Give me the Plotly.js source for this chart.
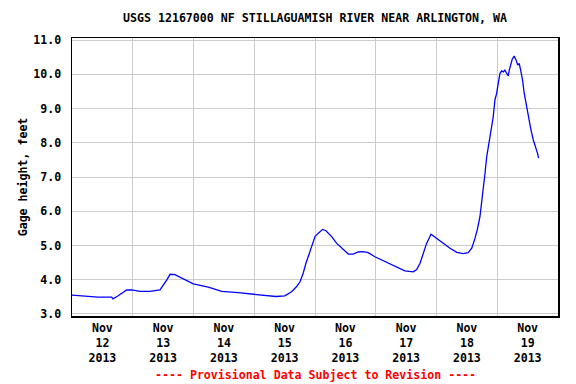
<!DOCTYPE html>
<html>
<head>
<meta charset="utf-8">
<script src="https://cdn.plot.ly/plotly-3.0.1.min.js"></script>
<style>html,body{margin:0;padding:0;background:#fff;}#chart{width:576px;height:384px;}</style>
</head>
<body>
<div id="chart"></div>
<script>
// Gage height readings
const times = [
  "2013-11-12 00:00","2013-11-12 03:50","2013-11-12 10:15","2013-11-12 15:40","2013-11-12 16:10",
  "2013-11-12 18:15","2013-11-12 21:35","2013-11-12 23:35","2013-11-13 02:50","2013-11-13 06:50",
  "2013-11-13 10:45","2013-11-13 13:25","2013-11-13 14:45","2013-11-13 16:40","2013-11-13 18:40",
  "2013-11-13 21:20","2013-11-13 23:55","2013-11-14 05:50","2013-11-14 11:10","2013-11-14 17:40",
  "2013-11-15 00:15","2013-11-15 07:30","2013-11-15 08:35","2013-11-15 12:05","2013-11-15 14:45",
  "2013-11-15 16:45","2013-11-15 18:05","2013-11-15 19:20","2013-11-15 20:25","2013-11-15 22:00",
  "2013-11-15 22:40","2013-11-16 00:00","2013-11-16 01:20","2013-11-16 03:00","2013-11-16 04:20",
  "2013-11-16 06:35","2013-11-16 08:35","2013-11-16 11:10","2013-11-16 13:10","2013-11-16 15:05",
  "2013-11-16 17:05","2013-11-16 19:05","2013-11-16 21:00","2013-11-16 23:40","2013-11-17 03:40",
  "2013-11-17 08:15","2013-11-17 11:30","2013-11-17 14:50","2013-11-17 16:10","2013-11-17 17:30",
  "2013-11-17 18:45","2013-11-17 20:05","2013-11-17 21:50","2013-11-17 22:45","2013-11-18 00:40",
  "2013-11-18 02:40","2013-11-18 05:20","2013-11-18 08:00","2013-11-18 10:35","2013-11-18 12:30",
  "2013-11-18 13:55","2013-11-18 15:10","2013-11-18 16:05","2013-11-18 17:10","2013-11-18 17:50",
  "2013-11-18 18:30","2013-11-18 19:10","2013-11-18 19:50","2013-11-18 20:25","2013-11-18 21:05",
  "2013-11-18 21:45","2013-11-18 22:25","2013-11-18 23:05","2013-11-18 23:45","2013-11-19 00:25",
  "2013-11-19 01:05","2013-11-19 01:45","2013-11-19 02:25","2013-11-19 03:00","2013-11-19 03:40",
  "2013-11-19 04:20","2013-11-19 04:45","2013-11-19 05:20","2013-11-19 05:55","2013-11-19 06:40",
  "2013-11-19 07:25","2013-11-19 08:05","2013-11-19 08:40","2013-11-19 09:15","2013-11-19 10:00",
  "2013-11-19 10:40","2013-11-19 11:35","2013-11-19 12:30","2013-11-19 13:20","2013-11-19 14:15",
  "2013-11-19 15:10","2013-11-19 15:55","2013-11-19 16:20"
];
const gageHeight = [
  3.55,3.53,3.49,3.49,3.44,
  3.53,3.70,3.70,3.66,3.66,
  3.70,3.99,4.16,4.15,4.07,
  3.97,3.88,3.78,3.66,3.62,
  3.57,3.53,3.51,3.53,3.65,
  3.80,3.94,4.19,4.48,4.82,
  4.96,5.26,5.36,5.47,5.43,
  5.26,5.06,4.89,4.75,4.75,
  4.81,4.82,4.79,4.67,4.53,
  4.38,4.26,4.23,4.30,4.48,
  4.77,5.06,5.33,5.28,5.16,
  5.04,4.92,4.80,4.76,4.79,
  4.92,5.20,5.45,5.84,6.23,
  6.62,7.11,7.59,7.88,8.18,
  8.47,8.76,9.25,9.44,9.74,
  10.03,10.10,10.07,10.12,10.01,
  9.95,10.12,10.32,10.44,10.53,
  10.42,10.27,10.32,10.12,9.83,
  9.44,9.05,8.76,8.37,8.08,
  7.88,7.69,7.55
];
const dayGrid = ["2013-11-12","2013-11-13","2013-11-14","2013-11-15","2013-11-16","2013-11-17","2013-11-18","2013-11-19","2013-11-20"];
const dayLabelPos = ["2013-11-12 12:00","2013-11-13 12:00","2013-11-14 12:00","2013-11-15 12:00","2013-11-16 12:00","2013-11-17 12:00","2013-11-18 12:00","2013-11-19 12:00"];
const dayLabels = ["Nov<br>12<br>2013","Nov<br>13<br>2013","Nov<br>14<br>2013","Nov<br>15<br>2013","Nov<br>16<br>2013","Nov<br>17<br>2013","Nov<br>18<br>2013","Nov<br>19<br>2013"];
const yTicks = [3,4,5,6,7,8,9,10,11];

const FONT = {family: "DejaVu Sans Mono, monospace", size: 11.6, color: "#000", weight: "bold"};
const xRange = ["2013-11-12 00:00", "2013-11-20 00:00"];

const traces = [
  {x: times, y: gageHeight, type: "scatter", mode: "lines",
   line: {color: "#0000ff", width: 1.3}, hoverinfo: "skip", xaxis: "x", yaxis: "y"},
  {x: times, y: gageHeight, type: "scatter", mode: "lines",
   line: {color: "rgba(0,0,0,0)", width: 0}, hoverinfo: "skip", xaxis: "x2", yaxis: "y"}
];

const layout = {
  width: 576, height: 384,
  margin: {l: 72, r: 18, t: 38, b: 68},
  paper_bgcolor: "#fff", plot_bgcolor: "#fff",
  showlegend: false,
  font: FONT,
  title: {text: "USGS 12167000 NF STILLAGUAMISH RIVER NEAR ARLINGTON, WA",
          font: FONT, x: 0.5, xref: "paper", xanchor: "center",
          y: 1 - 18/384, yref: "container", yanchor: "middle"},
  xaxis: {
    type: "date", range: xRange, tickmode: "array", tickvals: dayGrid,
    showticklabels: false, ticks: "", showgrid: true, gridcolor: "#cccccc", gridwidth: 1,
    showline: true, linecolor: "#000", linewidth: 1.5, mirror: true, zeroline: false, fixedrange: true
  },
  xaxis2: {
    type: "date", range: xRange, overlaying: "x", side: "bottom", anchor: "y",
    tickmode: "array", tickvals: dayLabelPos, ticktext: dayLabels,
    showgrid: false, ticks: "", tickfont: FONT, showline: false, zeroline: false,
    ticklabelstandoff: 3, fixedrange: true
  },
  yaxis: {
    range: [2.94, 11.06], tickmode: "array", tickvals: yTicks, tickformat: ".1f",
    ticks: "", tickfont: FONT, ticklabelstandoff: 7,
    showgrid: true, gridcolor: "#cccccc", gridwidth: 1,
    showline: true, linecolor: "#000", linewidth: 1.5, mirror: true, zeroline: false,
    title: {text: "Gage height, feet", font: FONT, standoff: 3}, automargin: false, fixedrange: true
  },
  annotations: [{
    text: "---- Provisional Data Subject to Revision ----",
    xref: "paper", yref: "paper", x: 0.5, y: (316 - 375) / 278,
    xanchor: "center", yanchor: "middle", showarrow: false,
    font: {family: "DejaVu Sans Mono, monospace", size: 11.6, color: "#ff0000", weight: "bold"}
  }]
};

Plotly.newPlot("chart", traces, layout, {displayModeBar: false, staticPlot: true});
</script>
</body>
</html>
